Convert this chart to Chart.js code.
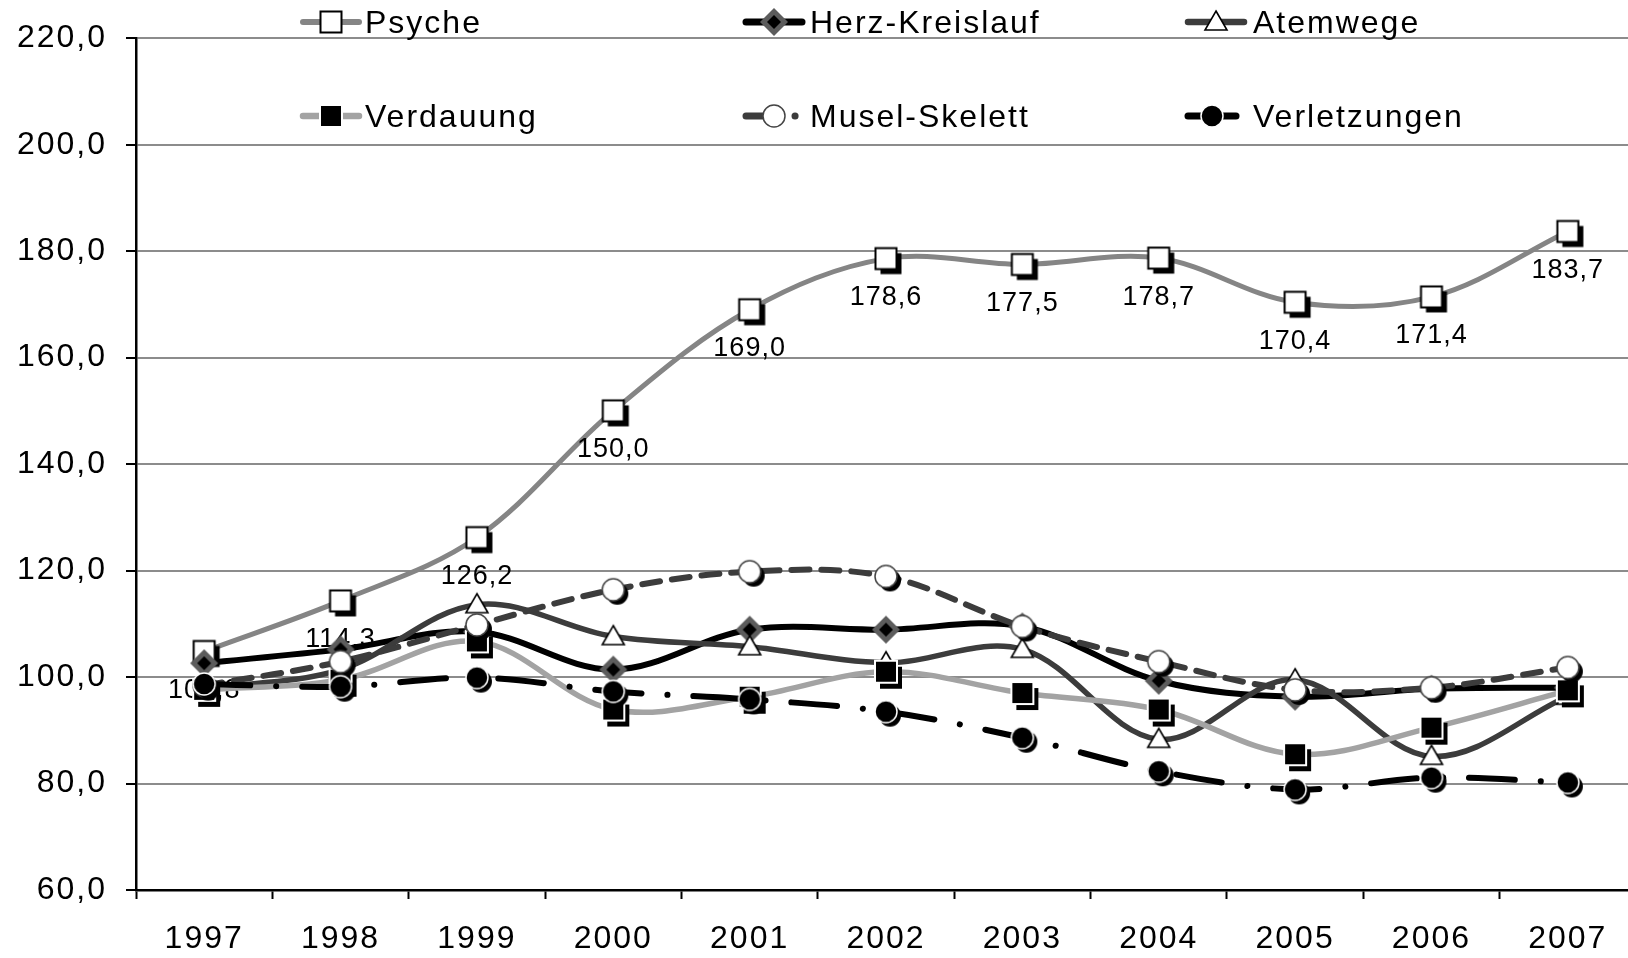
<!DOCTYPE html>
<html lang="de">
<head>
    <meta charset="UTF-8">
    <title>Arbeitsunfähigkeit nach Diagnosegruppen 1997-2007</title>
    <script src="https://cdn.jsdelivr.net/npm/chart.js@4.4.1/dist/chart.umd.min.js"></script>
    <style>
        body {
            margin: 0;
            padding: 0;
            background: #fff;
            overflow: hidden;
            font-family: 'Liberation Sans', Arial, sans-serif;
        }

        .wrap {
            position: relative;
            width: 1628px;
            height: 958px;
            overflow: hidden;
        }

        #chart {
            position: absolute;
            left: 0;
            top: 0;
        }

        .legend-icon {
            position: absolute;
            display: block;
        }

        .legend-text {
            position: absolute;
            font-size: 32px;
            line-height: 40px;
            letter-spacing: 2px;
            color: #000;
            white-space: nowrap;
        }
    </style>
</head>
<body>
    <div class="wrap">
        <canvas id="chart" width="1652" height="958"></canvas>
        <div id="legend"></div>
    </div>

    <script>
        // Jahre und Werte
        const years = ['1997', '1998', '1999', '2000', '2001', '2002', '2003', '2004', '2005', '2006', '2007'];

        const psyche       = [104.8, 114.3, 126.2, 150.0, 169.0, 178.6, 177.5, 178.7, 170.4, 171.4, 183.7];
        const herzKreislauf = [102.6, 105.2, 108.5, 101.4, 108.9, 108.9, 109.5, 99.3, 96.3, 97.8, 98.0];
        const atemwege     = [97.8, 101.4, 113.6, 107.6, 105.7, 102.7, 105.2, 88.3, 99.5, 85.1, 96.4];
        const verdauung    = [97.6, 99.5, 106.7, 93.9, 96.3, 101.0, 97.0, 93.9, 85.5, 90.5, 97.5];
        const muselSkelett = [98.4, 102.9, 109.8, 116.4, 119.8, 118.9, 109.5, 102.9, 97.6, 98.0, 101.8];
        const verletzungen = [98.7, 98.2, 99.9, 97.3, 95.8, 93.5, 88.6, 82.3, 78.9, 81.1, 80.2];

        const yTicks = [60, 80, 100, 120, 140, 160, 180, 200, 220];

        const fontFamily = "'Liberation Sans', Arial, sans-serif";
        const fmt = v => v.toFixed(1).replace('.', ',');

        // Marker zeichnen (mit optionalem Schatten)
        function drawMarker(ctx, kind, x, y, shadow) {
            ctx.save();
            ctx.setLineDash([]);
            if (kind === 'openSquare') {
                const s = 21;
                if (shadow) { ctx.fillStyle = '#000'; ctx.fillRect(x - s / 2 + 5, y - s / 2 + 5, s, s); }
                ctx.fillStyle = '#fff';
                ctx.fillRect(x - s / 2, y - s / 2, s, s);
                ctx.lineWidth = 2;
                ctx.strokeStyle = '#000';
                ctx.strokeRect(x - s / 2, y - s / 2, s, s);
            } else if (kind === 'diamond') {
                ctx.fillStyle = '#5c5c5c';
                ctx.beginPath();
                ctx.moveTo(x, y - 14); ctx.lineTo(x + 14, y); ctx.lineTo(x, y + 14); ctx.lineTo(x - 14, y);
                ctx.closePath(); ctx.fill();
                ctx.fillStyle = '#000';
                ctx.beginPath();
                ctx.moveTo(x, y - 7); ctx.lineTo(x + 7, y); ctx.lineTo(x, y + 7); ctx.lineTo(x - 7, y);
                ctx.closePath(); ctx.fill();
            } else if (kind === 'triangle') {
                ctx.fillStyle = '#fff';
                ctx.strokeStyle = '#000';
                ctx.lineWidth = 1.6;
                ctx.beginPath();
                ctx.moveTo(x, y - 11); ctx.lineTo(x + 11, y + 8); ctx.lineTo(x - 11, y + 8);
                ctx.closePath(); ctx.fill(); ctx.stroke();
            } else if (kind === 'filledSquare') {
                const s = 22;
                if (shadow) { ctx.fillStyle = '#000'; ctx.fillRect(x - s / 2 + 5, y - s / 2 + 6, s, s); }
                ctx.fillStyle = '#000';
                ctx.fillRect(x - s / 2, y - s / 2, s, s);
                ctx.lineWidth = 2;
                ctx.strokeStyle = '#fff';
                ctx.strokeRect(x - s / 2, y - s / 2, s, s);
            } else if (kind === 'openCircle' || kind === 'filledCircle') {
                const r = 11;
                if (shadow) {
                    ctx.fillStyle = '#000';
                    ctx.beginPath(); ctx.arc(x + 4, y + 4, r, 0, Math.PI * 2); ctx.fill();
                }
                ctx.beginPath(); ctx.arc(x, y, r, 0, Math.PI * 2);
                ctx.fillStyle = kind === 'openCircle' ? '#fff' : '#000';
                ctx.fill();
                ctx.lineWidth = 1.5;
                ctx.strokeStyle = kind === 'openCircle' ? '#444' : '#fff';
                ctx.stroke();
            }
            ctx.restore();
        }

        function markerImage(kind) {
            const c = document.createElement('canvas');
            c.width = 44;
            c.height = 44;
            drawMarker(c.getContext('2d'), kind, 22, 22, true);
            return c;
        }

        const series = [
            { label: 'Psyche', data: psyche, color: '#858585', width: 5, dash: [], marker: 'openSquare' },
            { label: 'Herz-Kreislauf', data: herzKreislauf, color: '#000', width: 6, dash: [], marker: 'diamond' },
            { label: 'Atemwege', data: atemwege, color: '#3c3c3c', width: 5.5, dash: [], marker: 'triangle' },
            { label: 'Verdauung', data: verdauung, color: '#a3a3a3', width: 5.5, dash: [], marker: 'filledSquare' },
            { label: 'Musel-Skelett', data: muselSkelett, color: '#3c3c3c', width: 6, dash: [18, 12], marker: 'openCircle' },
            { label: 'Verletzungen', data: verletzungen, color: '#000', width: 6, dash: [46, 26, 0.1, 26], marker: 'filledCircle' }
        ];

        // Wertebeschriftung für Psyche (unterhalb der Punkte)
        const psycheLabels = {
            id: 'psycheLabels',
            afterDatasetDraw(chart, args) {
                if (args.index !== 0) return;
                const ctx = chart.ctx;
                ctx.save();
                ctx.font = '27px ' + fontFamily;
                ctx.letterSpacing = '1px';
                ctx.fillStyle = '#000';
                ctx.textAlign = 'center';
                ctx.textBaseline = 'middle';
                args.meta.data.forEach((pt, i) => {
                    ctx.fillText(fmt(psyche[i]), pt.x, pt.y + 39);
                });
                ctx.restore();
            }
        };

        const spacing = {
            id: 'spacing',
            beforeDraw(chart) {
                chart.ctx.letterSpacing = '2px';
            }
        };

        new Chart(document.getElementById('chart'), {
            type: 'line',
            data: {
                labels: years,
                datasets: series.map((s, i) => ({
                    label: s.label,
                    data: s.data,
                    borderColor: s.color,
                    borderWidth: s.width,
                    borderDash: s.dash,
                    borderCapStyle: 'round',
                    borderJoinStyle: 'round',
                    fill: false,
                    tension: 0.35,
                    pointStyle: markerImage(s.marker),
                    pointRadius: 10,
                    order: series.length - i
                }))
            },
            options: {
                responsive: false,
                animation: false,
                devicePixelRatio: 1,
                layout: { padding: { top: 37, right: 5, left: 0, bottom: 0 } },
                plugins: {
                    legend: { display: false },
                    tooltip: { enabled: false }
                },
                scales: {
                    x: {
                        offset: true,
                        grid: {
                            offset: true,
                            drawOnChartArea: false,
                            drawTicks: true,
                            tickLength: 9,
                            tickColor: '#000',
                            tickWidth: 2
                        },
                        border: { color: '#000', width: 2.5 },
                        ticks: {
                            font: { family: fontFamily, size: 32 },
                            color: '#000',
                            padding: 21,
                            maxRotation: 0,
                            autoSkip: false
                        },
                        afterFit(scale) { scale.height = 68; }
                    },
                    y: {
                        min: yTicks[0],
                        max: yTicks[yTicks.length - 1],
                        afterBuildTicks(scale) {
                            scale.ticks = yTicks.map(v => ({ value: v }));
                        },
                        grid: {
                            color: '#8c8c8c',
                            lineWidth: 2,
                            tickLength: 10,
                            tickColor: '#000',
                            tickWidth: 2
                        },
                        border: { color: '#000', width: 2.5 },
                        ticks: {
                            font: { family: fontFamily, size: 32 },
                            color: '#000',
                            padding: 19,
                            callback: v => fmt(v)
                        },
                        afterFit(scale) { scale.width = 136; }
                    }
                }
            },
            plugins: [spacing, psycheLabels]
        });

        // Legende (HTML, zwei Zeilen à drei Einträge)
        const legendCols = [298, 741, 1183];
        const textCols = [365, 810, 1253];
        const legendRows = [22, 116];
        const legend = document.getElementById('legend');
        series.forEach((s, i) => {
            const col = i % 3;
            const cy = legendRows[Math.floor(i / 3)];

            const icon = document.createElement('canvas');
            icon.className = 'legend-icon';
            icon.width = i === 5 ? 58 : 66;
            icon.height = 40;
            icon.style.left = legendCols[col] + 'px';
            icon.style.top = (cy - 20) + 'px';
            const ictx = icon.getContext('2d');
            ictx.strokeStyle = s.color;
            ictx.lineWidth = s.width + 1;
            ictx.lineCap = 'round';
            ictx.setLineDash(i === 4 ? [18, 31, 0.1, 100] : []);
            ictx.beginPath();
            ictx.moveTo(5, 20);
            ictx.lineTo(icon.width - 5, 20);
            ictx.stroke();
            drawMarker(ictx, s.marker, icon.width / 2, 20, false);

            const text = document.createElement('div');
            text.className = 'legend-text';
            text.style.left = textCols[col] + 'px';
            text.style.top = (cy - 20) + 'px';
            text.textContent = s.label;

            legend.appendChild(icon);
            legend.appendChild(text);
        });
    </script>
</body>
</html>
